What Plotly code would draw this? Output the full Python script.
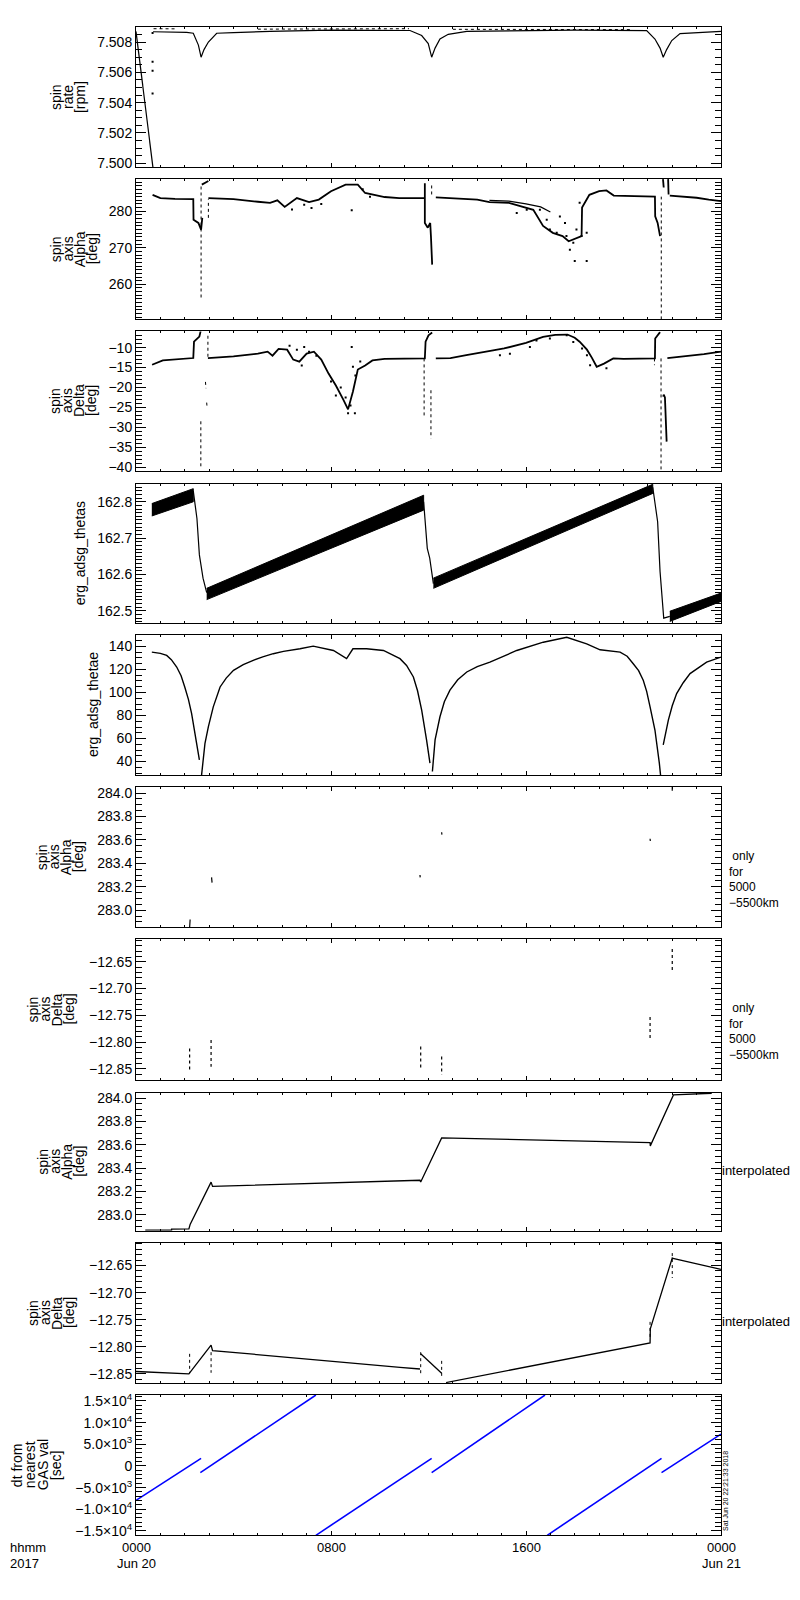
import plotly.graph_objects as go

# time axis: hours after 2017-06-20 00:00 UT
hour_ticks = [0, 8, 16, 24]
hour_labels = ["0000", "0800", "1600", "0000"]
day_labels = ["Jun 20", "", "", "Jun 21"]

# ---- panel 1: spin rate [rpm]
rate_drop_t = [0.0, 0.72]
rate_drop_v = [7.5087, 7.4994]
rate_dots_t = [0.68, 0.68, 0.68, 0.68]
rate_dots_v = [7.5086, 7.5067, 7.5061, 7.5046]
rate_t = [0.70, 1.0, 1.5, 2.08, 2.35, 2.56, 2.67, 2.79, 2.97, 3.31, 4.0, 5.5, 8.0,
          10.0, 11.24, 11.72, 11.99, 12.13, 12.27, 12.47, 12.81, 13.57, 15.75, 18.0,
          20.95, 21.29, 21.5, 21.63, 21.77, 21.98, 22.32, 22.87, 24.0]
rate_v = [7.50868, 7.50868, 7.50866, 7.50864, 7.50858, 7.5078, 7.5070, 7.5075, 7.5080,
          7.50858, 7.50862, 7.5087, 7.50878, 7.50878, 7.50876, 7.50843, 7.5079, 7.5070,
          7.5076, 7.5082, 7.50851, 7.5087, 7.50875, 7.50878, 7.50875, 7.5082, 7.5076,
          7.5070, 7.5075, 7.5081, 7.50856, 7.5086, 7.5087]
rate_hi_t = [0.72, 1.7, None, 5.0, 11.2, None, 13.0, 20.3]
rate_hi_v = [7.50888, 7.50887, None, 7.50885, 7.50888, None, 7.50884, 7.50882]

# ---- panel 2: spin axis alpha [deg]
alpha_t = [0.68, 1.0, 1.6, 2.35, 2.36, 2.56, 2.67, 2.72, None,
           2.70, 2.97, None,
           2.97, 4.0, 5.0, 5.5, 5.8, 6.1, 6.6, 7.1, 7.5, 8.0, 8.6, 9.1, 9.4, 9.8, 10.2,
           10.8, 11.85, None,
           11.85, 11.85, 11.97, 12.07, 12.1, 12.15, None,
           12.3, 13.0, 14.0, 14.5, 15.3, 16.3, 16.7, 17.1, 17.5, 17.75, 18.0, 18.28,
           18.3, 18.6, 19.0, 19.3, 19.6, 20.0, 21.29, 21.3, 21.4, 21.5, None,
           21.62, 21.65, None, 21.83, 21.85, None,
           21.9, 22.5, 23.0, 23.5, 24.0]
alpha_v = [284.5, 283.6, 283.4, 283.3, 277.7, 276.8, 275.0, 278.2, None,
           287.3, 288.3, None,
           283.6, 283.3, 282.6, 282.3, 283.0, 281.2, 283.6, 282.5, 283.2, 285.5, 287.3,
           287.3, 285.0, 284.5, 283.9, 283.6, 283.6, None,
           287.7, 276.8, 275.5, 276.8, 273.2, 265.4, None,
           283.8, 283.6, 283.2, 282.5, 282.3, 280.4, 276.0, 274.1, 273.2, 271.8, 272.5,
           273.2, 281.0, 284.5, 285.5, 285.7, 284.3, 284.2, 284.0, 278.6, 276.8, 273.2,
           None, 288.8, 286.5, None, 288.8, 284.6, None,
           284.3, 284.0, 283.7, 283.2, 282.8]
alpha_upper_t = [14.5, 15.3, 16.0, 16.6, 17.0]
alpha_upper_v = [283.0, 282.8, 282.0, 281.2, 279.8]
alpha_dot_t = [2.67, 2.67, None, 2.97, 2.97, None, 12.13, 12.13, None, 21.55, 21.55]
alpha_dot_v = [256.4, 287.3, None, 278.2, 283.3, None, 284.6, 287.7, None, 250.4, 284.0]
cloud2_t = [6.4, 6.9, 7.2, 7.6, 8.85, 9.3, 9.6, 15.62, 16.03, 16.57, 16.85, 16.98, 17.26,
            17.39, 17.6, 17.66, 17.8, 17.94, 18.0, 18.07, 18.2, 18.28, 18.49, 18.49]
cloud2_v = [280.5, 281.8, 280.9, 282.0, 280.3, 286.0, 284.0, 279.5, 280.4, 280.4, 277.7,
            275.0, 274.1, 278.6, 276.8, 273.2, 269.5, 271.4, 266.4, 275.0, 282.3, 273.2,
            274.1, 266.4]

# ---- panel 3: spin axis delta [deg]
delta_t = [0.66, 1.1, 2.35, 2.38, 2.5, 2.6, 2.65, None,
           2.95, 4.0, 5.0, 5.4, 5.6, 5.85, 6.2, 6.45, 6.7, 7.0, 7.3, 7.6, 7.9, 8.2, 8.5,
           8.7, 8.9, 9.1, 9.4, 9.7, 10.2, 11.85, 11.88, 12.0, 12.15, None,
           12.3, 12.9, 13.55, 14.2, 14.65, 15.1, 15.6, 16.0, 16.7, 17.2, 17.7, 18.0,
           18.2, 18.5, 18.7, 18.9, 19.2, 19.58, 20.0, 21.29, 21.3, 21.5, None,
           21.63, 21.65, 21.7, 21.77, None,
           21.8, 22.5, 23.3, 24.0]
delta_v = [-14.3, -13.2, -12.6, -8.5, -7.8, -7.2, -5.9, None,
           -12.6, -12.2, -11.5, -11.0, -12.0, -10.3, -10.5, -13.0, -13.5, -11.5, -11.0,
           -13.0, -16.5, -19.5, -23.0, -25.5, -21.0, -15.5, -14.5, -13.2, -12.8, -12.7,
           -8.5, -6.9, -6.2, None,
           -12.7, -12.6, -11.9, -11.3, -10.7, -10.2, -9.4, -8.8, -7.3, -6.8, -6.7, -7.5,
           -8.5, -10.5, -12.5, -14.8, -14.0, -12.7, -12.8, -12.7, -7.7, -6.1, None,
           -22.3, -21.8, -22.5, -33.6, None,
           -12.6, -12.2, -11.6, -11.0]
delta_dot_t = [2.66, 2.66, None, 2.85, 2.87, None, 2.9, 2.92, None, 2.95, 2.95, None,
               11.82, 11.82, None, 12.1, 12.1, None, 21.27, 21.27, None, 21.54, 21.54]
delta_dot_v = [-28.5, -40.0, None, -18.6, -20.2, None, -23.8, -25.3, None, -7.0, -12.5,
               None, -12.7, -27.7, None, -20.7, -32.8, None, -12.7, -14.4, None, -12.7, -40.6]
cloud3_t = [6.3, 6.6, 6.9, 7.1, 6.8, 7.4, 8.0, 8.2, 8.4, 8.6, 8.8, 9.0, 9.2, 8.9, 8.7,
            8.98, 8.85, 16.43, 16.98, 17.67, 17.94, 18.3, 18.5, 18.63, 14.93, 15.34,
            16.16, 19.3]
cloud3_v = [-9.5, -10.5, -9.8, -11.0, -14.5, -12.0, -18.5, -22.0, -20.0, -22.5, -24.5,
            -17.0, -13.5, -14.8, -26.5, -26.5, -9.8, -8.2, -7.7, -6.9, -8.6, -10.2,
            -11.9, -14.4, -11.9, -11.5, -9.8, -15.2]

# ---- panel 4: erg_adsg_thetas (oscillating band: lower / upper edge)
band_t = [[0.65, 2.35], [2.9, 11.8], [12.2, 21.2], [21.9, 24.0]]
band_lo = [[162.761, 162.800], [162.531, 162.777], [162.562, 162.823], [162.471, 162.526]]
band_hi = [[162.795, 162.836], [162.562, 162.818], [162.590, 162.848], [162.499, 162.549]]
thetas_t = [2.35, 2.5, 2.6, 2.75, 2.9, None, 11.8, 11.95, 12.05, 12.2, None,
            21.2, 21.4, 21.5, 21.65, 21.9]
thetas_v = [162.83, 162.754, 162.654, 162.59, 162.55, None, 162.80, 162.672, 162.645,
            162.575, None, 162.84, 162.745, 162.608, 162.48, 162.485]

# ---- panel 5: erg_adsg_thetae
thetae_t = [0.65, 1.0, 1.26, 1.45, 1.67, 1.85, 2.0, 2.15, 2.28, 2.4, 2.49, 2.6, None,
            2.69, 2.83, 2.97, 3.17, 3.45, 3.7, 4.0, 4.4, 4.81, 5.2, 5.63, 6.05, 6.73,
            7.27, 8.1, 8.64, 8.9, 9.46, 10.15, 10.83, 11.1, 11.38, 11.55, 11.72, 11.92,
            12.06, None, 12.16, 12.27, 12.47, 12.65, 12.88, 13.2, 13.57, 14.0, 14.52,
            15.62, 16.71, 17.67, 18.49, 19.04, 19.86, 20.15, 20.4, 20.62, 20.81, 20.95,
            21.09, 21.29, 21.47, 21.52, None, 21.63, 21.84, 22.0, 22.18, 22.45, 22.73,
            23.41, 24.0]
thetae_v = [135.1, 134.0, 132.2, 128.5, 122.1, 114.5, 104.8, 94.0, 81.8, 68.0, 55.9,
            41.5, None, 28.2, 55.9, 70.3, 87.5, 104.8, 112.5, 119.3, 124.2, 127.9, 131.0,
            133.7, 135.7, 138.0, 140.3, 136.5, 129.4, 138.0, 138.0, 136.5, 129.4, 123.5,
            113.5, 101.5, 84.7, 58.8, 38.6, None, 31.4, 58.8, 78.9, 92.0, 102.0, 111.0,
            117.8, 122.5, 126.4, 136.5, 143.7, 148.0, 142.3, 137.1, 135.1, 131.5, 125.0,
            119.0, 110.6, 101.0, 87.5, 67.4, 38.6, 28.2, None, 54.4, 76.0, 88.5, 99.1,
            108.5, 116.4, 126.4, 130.8]

# ---- panel 6/7: spin axis for 5000-5500 km only
sel_a_t = [2.2, 2.22, None, 3.1, 3.12, None, 11.65, 11.66, None, 12.54, 12.55, None,
           21.09, 21.1, None, 22.0, 22.0]
sel_a_v = [282.853, 282.92, None, 283.28, 283.235, None, 283.30, 283.28, None,
           283.665, 283.645, None, 283.61, 283.59, None, 284.051, 284.02]
sel_d_t = [2.2, 2.2, None, 3.08, 3.08, None, 11.68, 11.68, None, 12.54, 12.54, None,
           21.09, 21.09, None, 22.0, 22.0]
sel_d_v = [-12.812, -12.852, None, -12.796, -12.846, None, -12.808, -12.849, None,
           -12.827, -12.861, None, -12.753, -12.793, None, -12.626, -12.670]

# ---- panel 8/9: interpolated spin axis
int_a_t = [0.38, 1.46, 1.46, 2.17, 2.22, 3.08, 3.14, 5.0, 7.0, 9.0, 10.83, 11.65, 11.68,
           12.54, 14.39, 16.3, 18.2, 20.1, 21.09, 21.1, 22.0, 22.05, 23.62]
int_a_v = [282.867, 282.867, 282.876, 282.877, 282.915, 283.279, 283.242, 283.255,
           283.265, 283.278, 283.293, 283.295, 283.28, 283.659, 283.65, 283.64, 283.63,
           283.62, 283.619, 283.59, 284.008, 284.028, 284.042]
int_d_t = [0.0, 2.17, 3.08, 3.14, 10.83, 11.65, None, 11.68, 12.54, None, 12.72, 21.09,
           21.1, 22.0, 22.03, 24.0]
int_d_v = [-12.8456, -12.85, -12.797, -12.807, -12.838, -12.841, None, -12.813, -12.849,
           None, -12.866, -12.793, -12.767, -12.636, -12.637, -12.657]
int_d_dot_t = [2.2, 2.2, None, 3.08, 3.08, None, 11.68, 11.68, None, 12.54, 12.54, None,
               21.09, 21.09, None, 22.0, 22.0]
int_d_dot_v = [-12.813, -12.849, None, -12.81, -12.848, None, -12.81, -12.85, None,
               -12.826, -12.855, None, -12.754, -12.785, None, -12.627, -12.673]

# ---- panel 10: dt from nearest GAS value [sec]
dt_t = [0.0, 2.67, None, 2.64, 7.38, None, 7.38, 12.13, None, 12.13, 16.78, None,
        16.87, 21.56, None, 21.56, 24.0]
dt_v = [-7960, 1750, None, -1540, 16360, None, -16000, 1750, None, -1540, 16360, None,
        -16000, 1750, None, -1540, 7340]
dt_tickvals = [-15000, -10000, -5000, 0, 5000, 10000, 15000]
dt_ticktext = ["\u22121.5\u00d710<sup>4</sup>", "\u22121.0\u00d710<sup>4</sup>",
               "\u22125.0\u00d710<sup>3</sup>", "0", "5.0\u00d710<sup>3</sup>",
               "1.0\u00d710<sup>4</sup>", "1.5\u00d710<sup>4</sup>"]

# ---- layout (pixels of the 800x1600 page)
W, H = 800, 1600
panel_top = [23, 176, 329, 482, 634, 787, 940, 1094, 1245, 1398]
panel_bot = [164, 317, 469, 622, 775, 928, 1081, 1233, 1386, 1539]
x_left, x_right = 136, 721
FONT = "Liberation Sans"

y_specs = [
    dict(range=[7.49974, 7.5090], dtick=0.002, minor=0.0005, fmt=".3f"),
    dict(range=[250.4, 288.8], dtick=10, minor=1, fmt="d"),
    dict(range=[-40.9, -5.9], dtick=5, minor=1, fmt="d"),
    dict(range=[162.467, 162.85], dtick=0.1, minor=0.01, fmt=".1f"),
    dict(range=[28.2, 150.1], dtick=20, minor=5, fmt="d"),
    dict(range=[282.853, 284.051], dtick=0.2, minor=0.05, fmt=".1f"),
    dict(range=[-12.870, -12.608], dtick=0.05, minor=0.01, fmt=".2f"),
    dict(range=[282.861, 284.048], dtick=0.2, minor=0.05, fmt=".1f"),
    dict(range=[-12.867, -12.608], dtick=0.05, minor=0.01, fmt=".2f"),
    dict(range=[-16000, 16365], dtick=None, minor=1000, fmt=None),
]

y_titles = [
    (["spin", "rate", "[rpm]"], [56, 68, 80]),
    (["spin", "axis", "Alpha", "[deg]"], [56, 68, 80, 92]),
    (["spin", "axis", "Delta", "[deg]"], [55, 67, 79, 91]),
    (["erg_adsg_thetas"], [80]),
    (["erg_adsg_thetae"], [93]),
    (["spin", "axis", "Alpha", "[deg]"], [42, 54, 66, 78]),
    (["spin", "axis", "Delta", "[deg]"], [33, 45, 57, 69]),
    (["spin", "axis", "Alpha", "[deg]"], [43, 55, 67, 79]),
    (["spin", "axis", "Delta", "[deg]"], [33, 45, 57, 69]),
    (["dt from", "nearest", "GAS val", "[sec]"], [17, 30, 43, 56]),
]


def ax(i):
    return ("x" if i == 1 else f"x{i}"), ("y" if i == 1 else f"y{i}")


fig = go.Figure()


def line(i, t, v, width=1.0, color="black", dash=None):
    xa, ya = ax(i)
    fig.add_trace(go.Scatter(x=t, y=v, mode="lines", xaxis=xa, yaxis=ya,
                             line=dict(color=color, width=width, dash=dash),
                             showlegend=False, hoverinfo="skip"))


def dots(i, t, v, size=2):
    xa, ya = ax(i)
    fig.add_trace(go.Scatter(x=t, y=v, mode="markers", xaxis=xa, yaxis=ya,
                             marker=dict(color="black", size=size, symbol="square"),
                             showlegend=False, hoverinfo="skip"))


# panel 1
line(1, rate_drop_t, rate_drop_v, 1.2)
line(1, rate_t, rate_v, 1.2)
line(1, rate_hi_t, rate_hi_v, 1.0, dash="dot")
dots(1, rate_dots_t, rate_dots_v)
# panel 2
line(2, alpha_t, alpha_v, 1.8)
line(2, alpha_upper_t, alpha_upper_v, 1.2)
line(2, alpha_dot_t, alpha_dot_v, 1.0, dash="dot")
dots(2, cloud2_t, cloud2_v)
# panel 3
line(3, delta_t, delta_v, 1.8)
line(3, delta_dot_t, delta_dot_v, 1.0, dash="dot")
dots(3, cloud3_t, cloud3_v)
# panel 4
for t, lo, hi in zip(band_t, band_lo, band_hi):
    fig.add_trace(go.Scatter(x=t + t[::-1], y=lo + hi[::-1], mode="lines", fill="toself",
                             fillcolor="black", line=dict(color="black", width=1),
                             xaxis="x4", yaxis="y4", showlegend=False, hoverinfo="skip"))
line(4, thetas_t, thetas_v, 1.2)
# panel 5
line(5, thetae_t, thetae_v, 1.4)
# panels 6, 7
line(6, sel_a_t, sel_a_v, 1.2)
line(7, sel_d_t, sel_d_v, 1.2, dash="dot")
# panels 8, 9
line(8, int_a_t, int_a_v, 1.3)
line(9, int_d_t, int_d_v, 1.3)
line(9, int_d_dot_t, int_d_dot_v, 1.0, dash="dot")
# panel 10
line(10, dt_t, dt_v, 1.6, color="#0000ff")

layout = dict(width=W, height=H, margin=dict(l=0, r=0, t=0, b=0),
              paper_bgcolor="white", plot_bgcolor="white", showlegend=False,
              font=dict(family=FONT, size=14, color="black"))
annotations = []
for i in range(1, 11):
    top, bot = panel_top[i - 1], panel_bot[i - 1]
    dom = [1 - bot / H, 1 - top / H]
    xa, ya = ax(i)
    xkey = "xaxis" if i == 1 else f"xaxis{i}"
    ykey = "yaxis" if i == 1 else f"yaxis{i}"
    layout[xkey] = dict(domain=[x_left / W, x_right / W], anchor=ya, range=[0, 24],
                        tickmode="linear", tick0=0, dtick=8, ticks="inside", ticklen=4,
                        tickcolor="black", showticklabels=False, showline=True,
                        linecolor="black", linewidth=1, mirror="allticks",
                        showgrid=False, zeroline=False,
                        minor=dict(ticks="inside", ticklen=2, tick0=0, dtick=1,
                                   tickcolor="black", showgrid=False))
    if i > 1:
        layout[xkey]["matches"] = "x"
    s = y_specs[i - 1]
    yd = dict(domain=dom, anchor=xa, range=s["range"], ticks="inside", ticklen=10,
              tickcolor="black", showline=True, linecolor="black", linewidth=1,
              mirror="allticks", showgrid=False, zeroline=False,
              tickfont=dict(family=FONT, size=14, color="black"),
              minor=dict(ticks="inside", ticklen=6, dtick=s["minor"],
                         tickcolor="black", showgrid=False))
    if s["dtick"] is None:
        yd.update(tickmode="array", tickvals=dt_tickvals, ticktext=dt_ticktext)
        yd["minor"]["tick0"] = 0
    else:
        yd.update(tickmode="linear", tick0=0, dtick=s["dtick"], tickformat=s["fmt"])
    layout[ykey] = yd

    mid = (top + bot) / 2
    words, xs = y_titles[i - 1]
    for w, xp in zip(words, xs):
        annotations.append(dict(text=w, x=xp / W, y=1 - mid / H, xref="paper",
                                yref="paper", xanchor="center", yanchor="middle",
                                textangle=-90, showarrow=False,
                                font=dict(family=FONT, size=14)))
    if i in (6, 7):
        annotations.append(dict(text="\u00a0only<br>for<br>5000<br>\u22125500km",
                                x=727 / W, y=1 - (mid - 10) / H, xref="paper",
                                yref="paper", xanchor="left", yanchor="top",
                                align="left", showarrow=False,
                                font=dict(family=FONT, size=12)))
    if i in (8, 9):
        annotations.append(dict(text="interpolated", x=720 / W, y=1 - (mid + 9) / H,
                                xref="paper", yref="paper", xanchor="left",
                                yanchor="middle", showarrow=False,
                                font=dict(family=FONT, size=13)))

# time labels under the bottom panel
for t, hl, dl in zip(hour_ticks, hour_labels, day_labels):
    annotations.append(dict(text=hl, x=t, xref="x10", y=1 - 1551 / H, yref="paper",
                            xanchor="center", yanchor="middle", showarrow=False,
                            font=dict(family=FONT, size=13)))
    if dl:
        annotations.append(dict(text=dl, x=t, xref="x10", y=1 - 1567 / H, yref="paper",
                                xanchor="center", yanchor="middle", showarrow=False,
                                font=dict(family=FONT, size=13)))
annotations.append(dict(text="hhmm", x=8 / W, y=1 - 1551 / H, xref="paper", yref="paper",
                        xanchor="left", yanchor="middle", showarrow=False,
                        font=dict(family=FONT, size=13)))
annotations.append(dict(text="2017", x=8 / W, y=1 - 1567 / H, xref="paper", yref="paper",
                        xanchor="left", yanchor="middle", showarrow=False,
                        font=dict(family=FONT, size=13)))
annotations.append(dict(text="Sat Jun 20 22:21:33 2018", x=725.5 / W, y=1 - 1495 / H,
                        xref="paper", yref="paper", xanchor="center", yanchor="middle",
                        textangle=-90, showarrow=False, font=dict(family=FONT, size=7)))
layout["annotations"] = annotations

fig.update_layout(**layout)
# page without body margin so the 800x1600 figure fills the window exactly
fig.write_html("out.html", config={"displayModeBar": False},
               post_script="document.body.style.margin='0';"
                           "document.body.style.overflow='hidden';")
